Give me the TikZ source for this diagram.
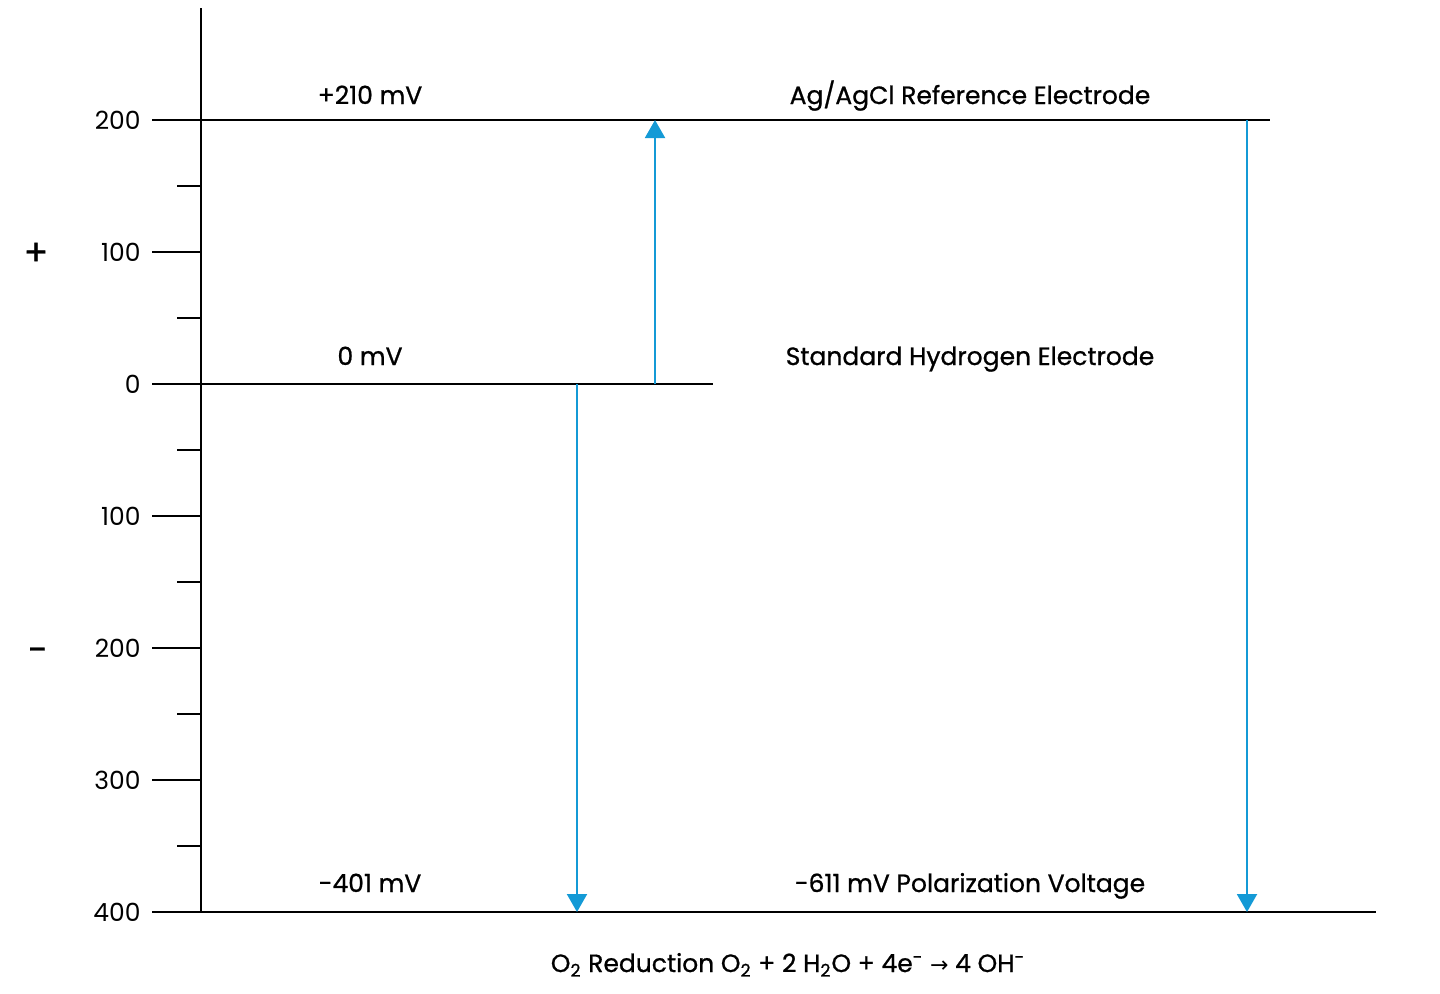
\documentclass[tikz,border=0pt]{standalone}
\usepackage{fontspec}
\setmainfont{Poppins}
\newfontfamily\medfont[FakeBold=0.8]{Poppins}
\newfontfamily\arrfont{DejaVu Sans}
\usetikzlibrary{arrows.meta}
\definecolor{arrowblue}{RGB}{20,154,214}
\begin{document}
\begin{tikzpicture}[x=0.5pt,y=-0.5pt,
  axis/.style={black,line width=1.2pt},
  varrow/.style={arrowblue,line width=1pt,-{Triangle[length=9pt,width=10pt]}},
  lbl/.style={font=\medfont\fontsize{12.5}{14}\selectfont,inner sep=0pt,anchor=base},
  ticklbl/.style={font=\fontsize{12.5}{14}\selectfont,inner sep=0pt,anchor=east}]
\useasboundingbox[fill=white] (0,0) rectangle (1440,993);
% axis
\coordinate (atop) at (201,8);
\coordinate (abot) at (201,912);
\draw[axis] (atop) -- (abot);
% major ticks and labels
\foreach \y/\t in {120/200,252/100,384/0,516/100,648/200,780/300,912/400}{
  \draw[axis] (152,\y) -- (201,\y);
  \node[ticklbl] (t\y) at (141,\y) {\t};
}
% minor ticks
\foreach \y in {186,318,450,582,714,846}{
  \draw[axis] (177,\y) -- (201,\y);
}
\node[font=\medfont\fontsize{18}{20}\selectfont,inner sep=0pt] (plus) at (36,254) {+};
\node[font=\medfont\fontsize{18}{20}\selectfont,inner sep=0pt] (minus) at (38,655) {-};
% level lines
\coordinate (l1a) at (201,120); \coordinate (l1b) at (1270,120);
\coordinate (l2a) at (201,384); \coordinate (l2b) at (713,384);
\coordinate (l3a) at (152,912); \coordinate (l3b) at (1376,912);
\draw[axis] (l1a) -- (l1b);
\draw[axis] (l2a) -- (l2b);
\draw[axis] (l3a) -- (l3b);
% labels
\node[lbl] (v210) at (370,104) {+210 mV};
\node[lbl] (v0) at (370,365) {0 mV};
\node[lbl] (v401) at (370,892) {-401 mV};
\node[lbl] (agcl) at (970,104) {Ag/AgCl Reference Electrode};
\node[lbl] (she) at (970,365) {Standard Hydrogen Electrode};
\node[lbl] (pol) at (970,892) {-611 mV Polarization Voltage};
\node[lbl] (eq) at (788,972) {O\textsubscript{2} Reduction O\textsubscript{2} + 2 H\textsubscript{2}O + 4e\textsuperscript{-} {\arrfont\fontsize{11}{13}\selectfont →} 4 OH\textsuperscript{-}};
% arrows
\coordinate (a1s) at (655,384); \coordinate (a1e) at (655,120);
\coordinate (a2s) at (577,384); \coordinate (a2e) at (577,912);
\coordinate (a3s) at (1247,120); \coordinate (a3e) at (1247,912);
\draw[varrow] (a1s) -- (a1e);
\draw[varrow] (a2s) -- (a2e);
\draw[varrow] (a3s) -- (a3e);
\end{tikzpicture}
\end{document}
